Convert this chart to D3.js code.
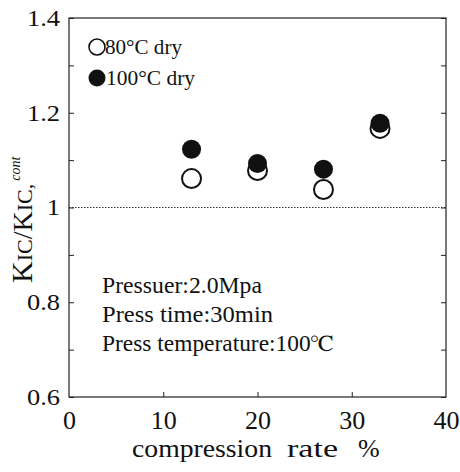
<!DOCTYPE html>
<html>
<head>
<meta charset="utf-8">
<script src="https://cdn.jsdelivr.net/npm/d3@7"></script>
<style>
  body { margin: 0; background: #fff; }
  svg, svg text { font-family: "Liberation Serif", Tinos, "Times New Roman", Times, "Nimbus Roman", "FreeSerif", "DejaVu Serif", "Noto Serif", serif !important; }
</style>
</head>
<body>
<script>
// data
const rates = [13, 20, 27, 33]
const dry80 = [1.061, 1.078, 1.038, 1.167]
const dry100 = [1.123, 1.093, 1.081, 1.178]
const xTicks = [0, 10, 20, 30, 40]
const yTicks = [0.6, 0.7, 0.8, 0.9, 1.0, 1.1, 1.2, 1.3, 1.4]
const notes = ['Pressuer:2.0Mpa', 'Press time:30min', 'Press temperature:100\u2103']

const W = 460, H = 472
const x = d3.scaleLinear().domain([0, 40]).range([69, 446])
const y = d3.scaleLinear().domain([0.6, 1.4]).range([397, 18])

const svg = d3.select('body').append('svg')
    .attr('width', W)
    .attr('height', H)

// frame
svg.append('rect')
    .attr('x', x(0)).attr('y', y(1.4))
    .attr('width', x(40) - x(0)).attr('height', y(0.6) - y(1.4))
    .attr('fill', 'none').attr('stroke', '#222').attr('stroke-width', 1.2)

// reference line at 1
svg.append('line')
    .attr('x1', x(0)).attr('x2', x(40))
    .attr('y1', y(1)).attr('y2', y(1))
    .attr('stroke', '#333').attr('stroke-width', 1.2)
    .attr('stroke-dasharray', '1.5,1.5')

const label = d => (Math.round(d * 10) % 2 === 0 ? d3.format('')(+d.toFixed(1)) : '')

// left axis
const leftAxis = svg.append('g')
    .attr('transform', `translate(${x(0)},0)`)
    .call(d3.axisLeft(y).tickValues(yTicks).tickSizeInner(-5).tickSizeOuter(0).tickPadding(9).tickFormat(label))
leftAxis.select('.domain').remove()
leftAxis.selectAll('line').attr('stroke', '#222')
leftAxis.selectAll('text')
    .attr('font-size', 23).attr('fill', '#111')
    .attr('transform', 'scale(1.15,1)')
    .attr('x', -9 / 1.15)

// right axis ticks
const rightAxis = svg.append('g')
    .attr('transform', `translate(${x(40)},0)`)
    .call(d3.axisRight(y).tickValues(yTicks).tickSizeInner(-5).tickSizeOuter(0).tickFormat(''))
rightAxis.select('.domain').remove()
rightAxis.selectAll('line').attr('stroke', '#222')

// bottom axis
const bottomAxis = svg.append('g')
    .attr('transform', `translate(0,${y(0.6)})`)
    .call(d3.axisBottom(x).tickValues(xTicks).tickSizeInner(-5).tickSizeOuter(0).tickPadding(14).tickFormat(d3.format('d')))
bottomAxis.select('.domain').remove()
bottomAxis.selectAll('line').attr('stroke', '#222')
    .attr('opacity', d => (d === 0 || d === 40 ? 0 : 1))
bottomAxis.selectAll('text')
    .attr('font-size', 26).attr('fill', '#111')

// axis titles
const xt = svg.append('text')
    .attr('y', 457)
    .attr('font-size', 26)
    .attr('fill', '#111')
xt.append('tspan').attr('x', 132).attr('textLength', 140).attr('lengthAdjust', 'spacingAndGlyphs').text('compression')
xt.append('tspan').attr('x', 287).attr('textLength', 51).attr('lengthAdjust', 'spacingAndGlyphs').text('rate')
xt.append('tspan').attr('x', 358).text('%')

const yt = svg.append('text')
    .attr('transform', 'translate(32,283) rotate(-90)')
    .attr('fill', '#111')
yt.append('tspan').attr('font-size', 30).text('K')
yt.append('tspan').attr('font-size', 22).text('IC')
yt.append('tspan').attr('font-size', 28).text('/K')
yt.append('tspan').attr('font-size', 22).text('IC,')
yt.append('tspan').attr('font-size', 14).attr('font-style', 'italic').attr('dx', 3).attr('dy', -12).text('cont')

// points
svg.append('g').selectAll('circle')
    .data(rates)
    .join('circle')
    .attr('cx', d => x(d))
    .attr('cy', (d, i) => y(dry80[i]))
    .attr('r', 9.5)
    .attr('fill', '#fff')
    .attr('stroke', '#111')
    .attr('stroke-width', 2)

svg.append('g').selectAll('circle')
    .data(rates)
    .join('circle')
    .attr('cx', d => x(d))
    .attr('cy', (d, i) => y(dry100[i]))
    .attr('r', 9.5)
    .attr('fill', '#111')

// legend
const legend = svg.append('g')
legend.append('circle').attr('cx', 97).attr('cy', 47).attr('r', 8)
    .attr('fill', '#fff').attr('stroke', '#111').attr('stroke-width', 1.6)
legend.append('circle').attr('cx', 97).attr('cy', 78).attr('r', 8.5)
    .attr('fill', '#111')
legend.append('text').attr('x', 105).attr('y', 54).attr('font-size', 21).attr('fill', '#111')
    .attr('textLength', 77).attr('lengthAdjust', 'spacingAndGlyphs').text('80°C dry')
legend.append('text').attr('x', 106).attr('y', 85).attr('font-size', 21).attr('fill', '#111')
    .attr('textLength', 89).attr('lengthAdjust', 'spacingAndGlyphs').text('100°C dry')

// conditions
const noteW = [160, 171, 231]
svg.append('g').selectAll('text')
    .data(notes)
    .join('text')
    .attr('x', 102)
    .attr('y', (d, i) => 293 + i * 29)
    .attr('font-size', 23)
    .attr('fill', '#111')
    .attr('textLength', (d, i) => noteW[i])
    .attr('lengthAdjust', 'spacingAndGlyphs')
    .text(d => d)
</script>
</body>
</html>
